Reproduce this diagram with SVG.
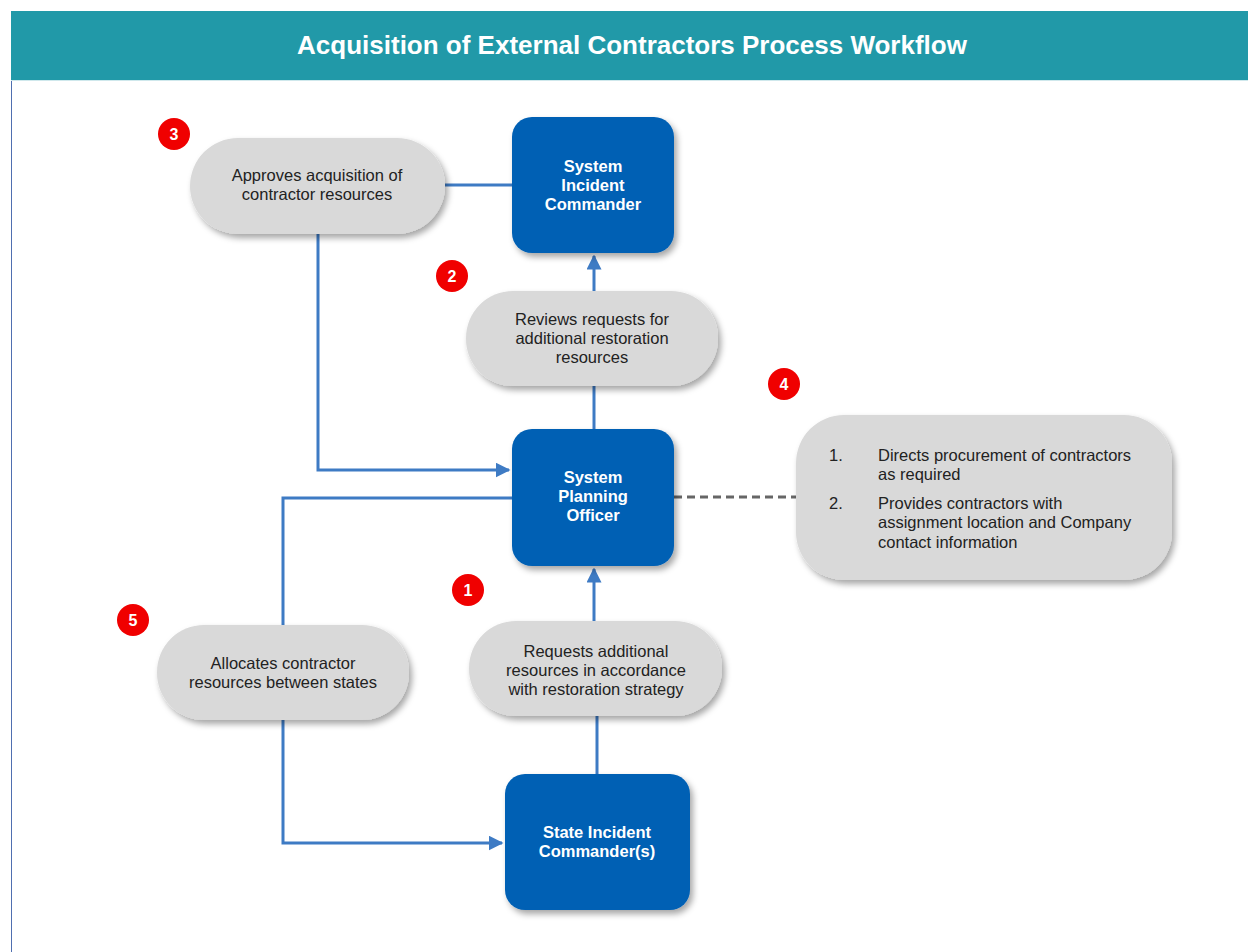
<svg xmlns="http://www.w3.org/2000/svg" width="1248" height="952" viewBox="0 0 1248 952">
<defs>
<filter id="sh" x="-20%" y="-20%" width="150%" height="150%">
<feDropShadow dx="3" dy="4" stdDeviation="3" flood-color="#000" flood-opacity="0.35"/>
</filter>
<marker id="arr" viewBox="0 0 10 10" refX="9" refY="5" markerWidth="5" markerHeight="5" orient="auto" markerUnits="strokeWidth">
<path d="M0,0 L10,5 L0,10 z" fill="#3E7BC4"/>
</marker>
<style>
.blue{fill:#0060B4;filter:url(#sh)}
.pill{fill:#D9D9D9;filter:url(#sh)}
.bt{font-family:"Liberation Sans",Arial,sans-serif;font-size:16.5px;font-weight:bold;fill:#fff;text-anchor:middle}
.pt{font-family:"Liberation Sans",Arial,sans-serif;font-size:16.5px;fill:#222;text-anchor:middle}
.lt{font-family:"Liberation Sans",Arial,sans-serif;font-size:16.5px;fill:#222}
.badge{fill:#F00000}
.bn{font-family:"Liberation Sans",Arial,sans-serif;font-size:16px;font-weight:bold;fill:#fff;text-anchor:middle}
.ln{fill:none;stroke:#3E7BC4;stroke-width:3}
</style>
</defs>
<rect width="1248" height="952" fill="#fff"/>
<line x1="11.5" y1="11" x2="11.5" y2="952" stroke="#4F6FB0" stroke-width="1"/>
<g id="header">
<rect x="11" y="11" width="1237" height="69" fill="#2199A8"/>
<line x1="11" y1="80.5" x2="1248" y2="80.5" stroke="#CFE8EC" stroke-width="1"/>
<text x="632" y="54" font-family="Liberation Sans,Arial,sans-serif" font-size="26" font-weight="bold" fill="#fff" text-anchor="middle">Acquisition of External Contractors Process Workflow</text>
</g>
<g id="connectors">
<line class="ln" x1="445" y1="185" x2="512" y2="185"/>
<polyline class="ln" points="318,234 318,470 509,470" marker-end="url(#arr)"/>
<line class="ln" x1="594" y1="429" x2="594" y2="386"/>
<line class="ln" x1="594" y1="291" x2="594" y2="256" marker-end="url(#arr)"/>
<line class="ln" x1="597" y1="774" x2="597" y2="716"/>
<line class="ln" x1="594" y1="621" x2="594" y2="569" marker-end="url(#arr)"/>
<polyline class="ln" points="512,498 283,498 283,625"/>
<polyline class="ln" points="283,720 283,843 502,843" marker-end="url(#arr)"/>
<line x1="674" y1="497" x2="796" y2="497" stroke="#666" stroke-width="3" stroke-dasharray="8,5"/>
</g>
<g id="sic">
<rect class="blue" x="512" y="117" width="162" height="136" rx="20"/>
<text class="bt" x="593" y="172">System</text>
<text class="bt" x="593" y="191">Incident</text>
<text class="bt" x="593" y="210">Commander</text>
</g>
<g id="spo">
<rect class="blue" x="512" y="429" width="162" height="137" rx="20"/>
<text class="bt" x="593" y="483">System</text>
<text class="bt" x="593" y="502">Planning</text>
<text class="bt" x="593" y="521">Officer</text>
</g>
<g id="state">
<rect class="blue" x="505" y="774" width="185" height="136" rx="20"/>
<text class="bt" x="597" y="838">State Incident</text>
<text class="bt" x="597" y="857">Commander(s)</text>
</g>
<g id="approves">
<rect class="pill" x="190" y="138" width="255" height="96" rx="48"/>
<text class="pt" x="317" y="181">Approves acquisition of</text>
<text class="pt" x="317" y="200">contractor resources</text>
</g>
<g id="reviews">
<rect class="pill" x="466" y="291" width="252" height="95" rx="47"/>
<text class="pt" x="592" y="325">Reviews requests for</text>
<text class="pt" x="592" y="344">additional restoration</text>
<text class="pt" x="592" y="363">resources</text>
</g>
<g id="requests">
<rect class="pill" x="469" y="621" width="253" height="95" rx="47"/>
<text class="pt" x="596" y="657">Requests additional</text>
<text class="pt" x="596" y="676">resources in accordance</text>
<text class="pt" x="596" y="695">with restoration strategy</text>
</g>
<g id="allocates">
<rect class="pill" x="157" y="625" width="252" height="95" rx="47"/>
<text class="pt" x="283" y="669">Allocates contractor</text>
<text class="pt" x="283" y="688">resources between states</text>
</g>
<g id="directs">
<rect class="pill" x="796" y="415" width="376" height="165" rx="48"/>
<text class="lt" x="829" y="461" fill="#444">1.</text>
<text class="lt" x="878" y="461">Directs procurement of contractors</text>
<text class="lt" x="878" y="480">as required</text>
<text class="lt" x="829" y="509" fill="#444">2.</text>
<text class="lt" x="878" y="509">Provides contractors with</text>
<text class="lt" x="878" y="528">assignment location and Company</text>
<text class="lt" x="878" y="548">contact information</text>
</g>
<g id="badge3"><circle class="badge" cx="174" cy="134" r="16"/><text class="bn" x="174" y="140">3</text></g>
<g id="badge2"><circle class="badge" cx="452" cy="276" r="16"/><text class="bn" x="452" y="282">2</text></g>
<g id="badge4"><circle class="badge" cx="784" cy="384" r="16"/><text class="bn" x="784" y="390">4</text></g>
<g id="badge1"><circle class="badge" cx="468" cy="590" r="16"/><text class="bn" x="468" y="596">1</text></g>
<g id="badge5"><circle class="badge" cx="133" cy="620" r="16"/><text class="bn" x="133" y="626">5</text></g>
</svg>
